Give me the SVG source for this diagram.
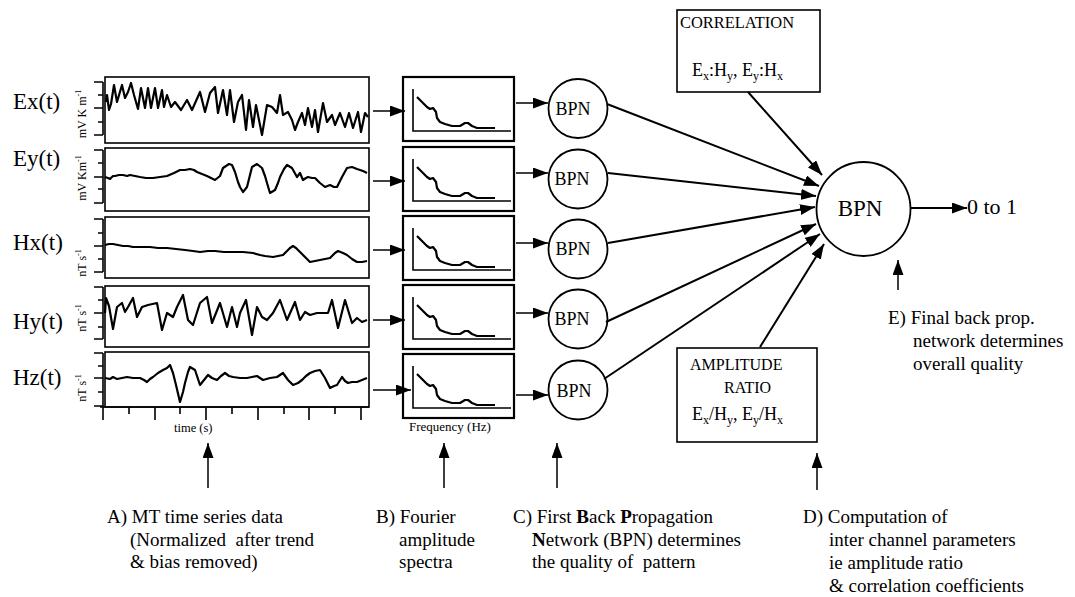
<svg xmlns="http://www.w3.org/2000/svg" xmlns:xlink="http://www.w3.org/1999/xlink" width="1075" height="597" viewBox="0 0 1075 597">
<style>
text{font-family:"Liberation Serif","Times New Roman",serif;fill:#000}
.lbl{font-size:23px}
.unit{font-size:12px}
.bpn{font-size:18px;text-anchor:middle}
.cap{font-size:19px}
.box{fill:#fff;stroke:#000;stroke-width:1.6}
.frame{fill:none;stroke:#000;stroke-width:2.2}
.wave{fill:none;stroke:#000;stroke-width:2.2;stroke-linejoin:round}
.ax{fill:none;stroke:#000;stroke-width:1.6}
.node{fill:#fff;stroke:#000;stroke-width:1.8}
.conn{fill:none;stroke:#000;stroke-width:1.5}
.conn2{fill:none;stroke:#000;stroke-width:2}
</style>
<defs>
<marker id="ah" markerUnits="userSpaceOnUse" markerWidth="15" markerHeight="11" refX="15" refY="5.5" orient="auto">
<path d="M0,0 L15,5.5 L0,11 z" fill="#000"/>
</marker>
<g id="spec">
<rect x="0" y="0" width="111" height="64" class="frame"/>
<path d="M10,12 V54 H108" class="ax" stroke-width="2"/>
<path d="M14,20 L19,25 L24,30 L27,32 L30,31 L33,35 L34,41 L37,45 L42,47 L49,49 L57,49 L62,46 L65,46 L69,49 L74,51 L80,51 L87,51 L92,51" class="wave" stroke-width="1.8"/>
</g>
</defs>
<rect width="1075" height="597" fill="#fff"/>

<!-- time series panels -->
<g id="ts-ex">
<text class="lbl" x="13" y="109">Ex(t)</text>
<text class="unit" transform="translate(86,114) rotate(-90)" text-anchor="middle">mV K m<tspan font-size="8" dy="-5">-1</tspan></text>
<path d="M103,82 V135 M94,82 H103 M98,95 H103 M94,108 H103 M98,122 H103 M94,135 H103" class="ax"/>
<rect x="105" y="77" width="264" height="66" class="box"/>
<path class="wave" d="M106,102 L107,95 L109,110 L111,104 L114,85 L117,102 L122,85 L125,98 L128,92 L131,83 L134,95 L138,109 L141,88 L145,108 L148,88 L151,108 L155,88 L158,108 L162,90 L164,107 L167,95 L171,107 L175,102 L181,110 L187,100 L192,110 L200,92 L205,112 L210,93 L215,87 L218,113 L223,90 L227,115 L230,90 L234,122 L238,102 L242,95 L246,130 L249,100 L253,127 L256,105 L262,135 L267,105 L272,107 L277,113 L280,95 L283,115 L288,112 L292,120 L295,130 L298,122 L302,113 L305,125 L308,108 L312,127 L315,110 L318,132 L323,103 L327,122 L332,115 L335,125 L340,113 L345,127 L349,113 L353,128 L358,112 L361,132 L365,113 L368,117"/>
</g>
<g id="ts-ey">
<text class="lbl" x="13" y="166">Ey(t)</text>
<text class="unit" transform="translate(86,178) rotate(-90)" text-anchor="middle">mV Km<tspan font-size="8" dy="-5">-1</tspan></text>
<path d="M103,150 V203 M94,150 H103 M98,163 H103 M94,177 H103 M98,189 H103 M94,203 H103" class="ax"/>
<rect x="105" y="148" width="264" height="63" class="box"/>
<path class="wave" d="M105,177 L108,178 L110,179 L113,176 L115,176 L119,175 L123,175 L127,176 L130,175 L135,176 L140,177 L146,178 L153,178 L160,177 L167,176 L174,173 L180,170 L185,170 L190,169 L194,170 L197,172 L202,174 L207,176 L211,178 L215,180 L220,176 L223,168 L226,166 L229,164 L232,165 L235,172 L238,182 L240,187 L243,192 L247,187 L250,175 L252,167 L257,164 L262,168 L265,176 L267,183 L270,193 L275,190 L278,183 L280,177 L284,169 L287,165 L292,168 L297,177 L300,173 L303,180 L306,178 L308,177 L312,178 L315,178 L320,183 L325,187 L330,185 L334,187 L337,187 L342,177 L347,168 L352,167 L357,169 L363,171 L367,173"/>
</g>
<g id="ts-hx">
<text class="lbl" x="13" y="250">Hx(t)</text>
<text class="unit" transform="translate(86,263) rotate(-90)" text-anchor="middle">nT s<tspan font-size="8" dy="-5">-1</tspan></text>
<path d="M103,219 V272 M94,219 H103 M98,233 H103 M94,246 H103 M98,259 H103 M94,272 H103" class="ax"/>
<rect x="105" y="217" width="264" height="61" class="box"/>
<path class="wave" d="M105,245 L109,244 L113,244 L118,245 L123,246 L128,246 L133,247 L141,247 L150,247 L158,248 L167,248 L176,249 L185,250 L193,251 L200,252 L208,251 L215,251 L224,252 L233,252 L243,252 L253,253 L260,255 L265,256 L273,257 L278,256 L283,255 L287,251 L290,248 L293,246 L296,248 L298,250 L302,254 L305,257 L310,262 L315,261 L320,260 L325,259 L330,258 L335,253 L338,251 L343,253 L347,255 L352,259 L357,262 L362,262 L367,261"/>
</g>
<g id="ts-hy">
<text class="lbl" x="13" y="329">Hy(t)</text>
<text class="unit" transform="translate(86,318) rotate(-90)" text-anchor="middle">nT s<tspan font-size="8" dy="-5">-1</tspan></text>
<path d="M103,287 V339 M94,287 H103 M98,300 H103 M94,313 H103 M98,327 H103 M94,339 H103" class="ax"/>
<rect x="105" y="286" width="264" height="61" class="box"/>
<path class="wave" d="M105,313 L106,298 L109,306 L113,329 L117,307 L122,303 L125,312 L128,307 L133,298 L137,317 L142,307 L148,305 L157,303 L162,330 L167,313 L173,317 L177,307 L183,295 L188,320 L193,325 L200,303 L207,297 L212,323 L220,303 L227,327 L232,307 L237,327 L240,313 L246,300 L252,335 L257,307 L262,317 L267,320 L273,313 L280,300 L287,320 L295,302 L300,320 L305,312 L310,315 L317,313 L322,313 L328,313 L332,300 L338,328 L345,300 L352,323 L357,318 L362,322 L367,320"/>
</g>
<g id="ts-hz">
<text class="lbl" x="13" y="385">Hz(t)</text>
<text class="unit" transform="translate(86,388) rotate(-90)" text-anchor="middle">nT s<tspan font-size="8" dy="-5">-1</tspan></text>
<path d="M103,353 V407 M94,353 H103 M98,366 H103 M94,378 H103 M98,392 H103 M94,406 H103" class="ax"/>
<rect x="105" y="352" width="264" height="55" class="box"/>
<path class="wave" d="M105,378 L110,379 L113,377 L117,379 L122,378 L127,377 L133,378 L140,378 L144,380 L147,382 L150,379 L153,377 L158,373 L163,370 L167,368 L170,365 L173,373 L176,385 L180,402 L183,392 L185,383 L188,372 L190,367 L195,370 L200,385 L204,380 L208,375 L212,378 L217,380 L221,376 L225,373 L229,376 L233,377 L240,378 L247,378 L252,377 L257,376 L260,378 L263,380 L270,378 L277,377 L283,373 L288,380 L293,385 L298,383 L302,380 L306,376 L310,373 L315,371 L320,370 L325,378 L330,388 L334,386 L337,385 L342,377 L345,381 L348,383 L352,382 L357,382 L362,380 L367,378"/>
<path d="M100,407 H369 M103,407 V420 M129,407 V414 M155,407 V420 M180,407 V414 M206,407 V420 M232,407 V414 M258,407 V420 M284,407 V414 M309,407 V420 M335,407 V414 M361,407 V420" class="ax"/>
<text x="174" y="432" font-size="12.5">time (s)</text>
</g>

<!-- spectra -->
<g id="spec-1"><use xlink:href="#spec" x="403" y="77"/></g>
<g id="spec-2"><use xlink:href="#spec" x="403" y="147"/></g>
<g id="spec-3"><use xlink:href="#spec" x="403" y="216"/></g>
<g id="spec-4"><use xlink:href="#spec" x="403" y="285"/></g>
<g id="spec-5"><use xlink:href="#spec" x="403" y="354"/>
<text x="409" y="431" font-size="13">Frequency (Hz)</text></g>

<!-- first BPNs -->
<g id="bpn-1"><circle cx="578" cy="108.5" r="29.5" class="node"/><text class="bpn" x="573" y="114.5">BPN</text></g>
<g id="bpn-2"><circle cx="578" cy="179" r="29.5" class="node"/><text class="bpn" x="572" y="185">BPN</text></g>
<g id="bpn-3"><circle cx="578" cy="249" r="29.5" class="node"/><text class="bpn" x="573" y="255">BPN</text></g>
<g id="bpn-4"><circle cx="578" cy="319" r="29.5" class="node"/><text class="bpn" x="572" y="325">BPN</text></g>
<g id="bpn-5"><circle cx="578" cy="390" r="29.5" class="node"/><text class="bpn" x="574" y="397">BPN</text></g>

<!-- final BPN -->
<g id="bpn-final"><circle cx="863.5" cy="209" r="47" class="node"/><text x="860" y="216" font-size="23" text-anchor="middle">BPN</text></g>
<g id="output"><text x="967" y="214" font-size="22">0 to 1</text></g>

<g id="correlation">
<rect x="677" y="10" width="143" height="82" class="box"/>
<text x="680" y="28" font-size="16" textLength="114" lengthAdjust="spacingAndGlyphs">CORRELATION</text>
<text x="692" y="76" font-size="18">E<tspan font-size="12" dy="4">x</tspan><tspan dy="-4">:H</tspan><tspan font-size="12" dy="4">y</tspan><tspan dy="-4">, E</tspan><tspan font-size="12" dy="4">y</tspan><tspan dy="-4">:H</tspan><tspan font-size="12" dy="4">x</tspan></text>
</g>
<g id="amplitude">
<rect x="677" y="348" width="140" height="94" class="box"/>
<text x="690" y="370" font-size="16">AMPLITUDE</text>
<text x="724" y="393" font-size="16">RATIO</text>
<text x="692" y="420" font-size="18">E<tspan font-size="12" dy="4">x</tspan><tspan dy="-4">/H</tspan><tspan font-size="12" dy="4">y</tspan><tspan dy="-4">, E</tspan><tspan font-size="12" dy="4">y</tspan><tspan dy="-4">/H</tspan><tspan font-size="12" dy="4">x</tspan></text>
</g>

<!-- captions -->
<g id="cap-a"><text class="cap" x="107" y="523">A) MT time series data</text><text class="cap" x="130" y="545.5" xml:space="preserve">(Normalized  after trend</text><text class="cap" x="130" y="568">&amp; bias removed)</text></g>
<g id="cap-b"><text class="cap" x="376" y="523">B) Fourier</text><text class="cap" x="399" y="545.5">amplitude</text><text class="cap" x="399" y="568">spectra</text></g>
<g id="cap-c"><text class="cap" x="513" y="523">C) First <tspan font-weight="bold">B</tspan>ack <tspan font-weight="bold">P</tspan>ropagation</text><text class="cap" x="532" y="545.5"><tspan font-weight="bold">N</tspan>etwork (BPN) determines</text><text class="cap" x="532" y="568" xml:space="preserve">the quality of  pattern</text></g>
<g id="cap-d"><text class="cap" x="803" y="523">D) Computation of</text><text class="cap" x="829" y="546">inter channel parameters</text><text class="cap" x="829" y="569">ie amplitude ratio</text><text class="cap" x="829" y="592">&amp; correlation coefficients</text></g>
<g id="cap-e"><text class="cap" x="888" y="324">E) Final back prop.</text><text class="cap" x="913" y="347">network determines</text><text class="cap" x="913" y="370">overall quality</text></g>

<!-- connectors -->
<g id="connectors">
<line x1="373" y1="111" x2="405" y2="111" class="conn" marker-end="url(#ah)"/>
<line x1="373" y1="181" x2="405" y2="181" class="conn" marker-end="url(#ah)"/>
<line x1="373" y1="250" x2="405" y2="250" class="conn" marker-end="url(#ah)"/>
<line x1="373" y1="320" x2="405" y2="320" class="conn" marker-end="url(#ah)"/>
<line x1="373" y1="390" x2="411" y2="390" class="conn" marker-end="url(#ah)"/>
<line x1="516" y1="103" x2="548" y2="103" class="conn" marker-end="url(#ah)"/>
<line x1="516" y1="173" x2="548" y2="173" class="conn" marker-end="url(#ah)"/>
<line x1="516" y1="243" x2="548" y2="243" class="conn" marker-end="url(#ah)"/>
<line x1="516" y1="313" x2="548" y2="313" class="conn" marker-end="url(#ah)"/>
<line x1="516" y1="395" x2="548" y2="395" class="conn" marker-end="url(#ah)"/>
<line x1="607" y1="104" x2="819" y2="186" class="conn2" marker-end="url(#ah)"/>
<line x1="608" y1="173" x2="816" y2="196" class="conn2" marker-end="url(#ah)"/>
<line x1="608" y1="243" x2="815" y2="207" class="conn2" marker-end="url(#ah)"/>
<line x1="606" y1="322" x2="816" y2="224" class="conn2" marker-end="url(#ah)"/>
<line x1="604" y1="379" x2="820" y2="234" class="conn2" marker-end="url(#ah)"/>
<line x1="748" y1="92" x2="822" y2="175" class="conn2" marker-end="url(#ah)"/>
<line x1="760" y1="347" x2="824" y2="244" class="conn2" marker-end="url(#ah)"/>
<line x1="910" y1="208" x2="967" y2="208" class="conn2" marker-end="url(#ah)"/>
<line x1="208" y1="488" x2="208" y2="443" class="conn" marker-end="url(#ah)"/>
<line x1="444" y1="488" x2="444" y2="443" class="conn" marker-end="url(#ah)"/>
<line x1="557" y1="488" x2="557" y2="443" class="conn" marker-end="url(#ah)"/>
<line x1="817" y1="490" x2="817" y2="453" class="conn" marker-end="url(#ah)"/>
<line x1="898" y1="290" x2="898" y2="260" class="conn" marker-end="url(#ah)"/>
</g>
</svg>
